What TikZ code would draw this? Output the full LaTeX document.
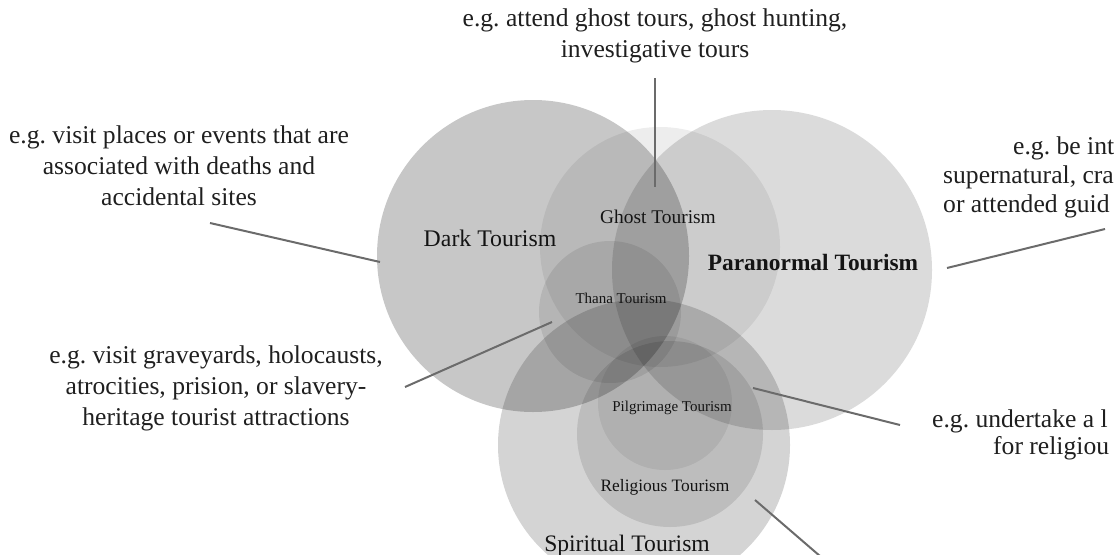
\documentclass[tikz,border=0pt]{standalone}
\usepackage{fontspec}
\setmainfont{Liberation Serif}
\frenchspacing

\begin{document}
\begin{tikzpicture}[
    x=1pt, y=-1pt,
    zone/.style={circle, fill=black, inner sep=0pt},
    note/.style={align=center, inner sep=0pt, text=black!88,
        font=\fontsize{25.6}{31}\selectfont},
    cut/.style={anchor=west, inner sep=0pt, text=black!88,
        font=\fontsize{25.6}{31}\selectfont},
    tag/.style={inner sep=0pt, text=black!92},
    link/.style={draw=black!58, line width=2pt}
]
\useasboundingbox (0,0) rectangle (1115,554);
\clip (0,0) rectangle (1115,554);

% Circles
\node[zone, minimum size=320pt, fill opacity=0.14] (para) at (772,270) {};
\node[zone, minimum size=312pt, fill opacity=0.22] (dark) at (533,256) {};
\node[zone, minimum size=240pt, fill opacity=0.07] (ghost) at (660,247) {};
\node[zone, minimum size=142pt, fill opacity=0.09] (thana) at (610,312) {};
\node[zone, minimum size=292pt, fill opacity=0.17] (spirit) at (644,445) {};
\node[zone, minimum size=186pt, fill opacity=0.11] (relig) at (670,434) {};
\node[zone, minimum size=134pt, fill opacity=0.07] (pilgr) at (665,403) {};

% Circle labels
\node[tag, font=\fontsize{23.8}{26}\selectfont] (darkTag) at (490,238) {Dark Tourism};
\node[tag, font=\fontsize{19.4}{22}\selectfont] (ghostTag) at (658,217) {Ghost Tourism};
\node[tag, font=\fontsize{23.4}{26}\selectfont\bfseries] (paraTag) at (813,263) {Paranormal Tourism};
\node[tag, font=\fontsize{15}{17}\selectfont] (thanaTag) at (621,298) {Thana Tourism};
\node[tag, font=\fontsize{15}{17}\selectfont] (pilgrTag) at (672,408) {Pilgrimage Tourism};
\node[tag, font=\fontsize{17.4}{20}\selectfont] (religTag) at (665,487) {Religious Tourism};
\node[tag, anchor=base, font=\fontsize{23.6}{26}\selectfont] (spiritTag) at (627,551) {Spiritual Tourism};

% Examples
\node[note] (ghostNote) at (655,36) {e.g. attend ghost tours, ghost hunting,\\ investigative tours};
\node[note] (darkNote) at (179,166) {e.g. visit places or events that are\\ associated with deaths and\\ accidental sites};
\node[note] (thanaNote) at (216,388) {e.g. visit graveyards, holocausts,\\ atrocities, prision, or slavery-\\ heritage tourist attractions};
\node[cut] (paraNoteA) at (1013,148) {e.g. be int};
\node[cut] (paraNoteB) at (943,177) {supernatural, cra};
\node[cut] (paraNoteC) at (943,206) {or attended guid};
\node[cut] (pilgrNoteA) at (932,421) {e.g. undertake a l};
\node[cut] (pilgrNoteB) at (993,448) {for religiou};

% Leader lines
\coordinate (ghostA) at (655,78);
\coordinate (ghostB) at (655,187);
\coordinate (darkA) at (210,223);
\coordinate (darkB) at (380,262);
\coordinate (thanaA) at (552,322);
\coordinate (thanaB) at (405,387);
\coordinate (paraA) at (947,268);
\coordinate (paraB) at (1105,229);
\coordinate (pilgrA) at (753,388);
\coordinate (pilgrB) at (900,425);
\coordinate (spiritA) at (755,500);
\coordinate (spiritB) at (835,569);

\draw[link] (ghostA) -- (ghostB);
\draw[link] (darkA) -- (darkB);
\draw[link] (thanaA) -- (thanaB);
\draw[link] (paraA) -- (paraB);
\draw[link] (pilgrA) -- (pilgrB);
\draw[link] (spiritA) -- (spiritB);
\end{tikzpicture}
\end{document}
